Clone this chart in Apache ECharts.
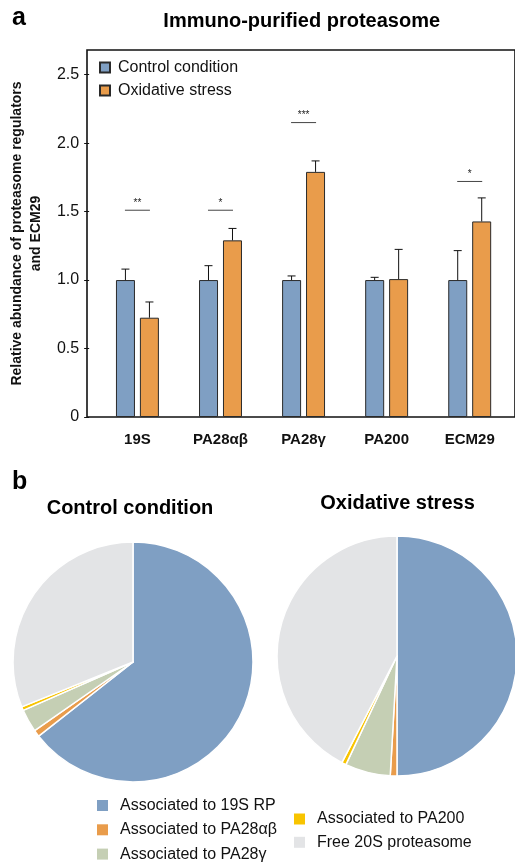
<!DOCTYPE html>
<html>
<head>
<meta charset="utf-8">
<script src="https://cdn.jsdelivr.net/npm/echarts@6/dist/echarts.min.js"></script>
<style>
html,body{margin:0;padding:0;background:#fff;}
#c{width:515px;height:862px;}
</style>
</head>
<body>
<div id="c"></div>
<script>
// ---- data ----
var categories = ['19S', 'PA28\u03b1\u03b2', 'PA28\u03b3', 'PA200', 'ECM29'];
var controlValues = [1.0, 1.0, 1.0, 1.0, 1.0];
var controlErrors = [0.08, 0.105, 0.03, 0.02, 0.215];
var stressValues = [0.725, 1.29, 1.79, 1.007, 1.428];
var stressErrors = [0.115, 0.087, 0.08, 0.217, 0.172];
var sigCategories = [0, 1, 2, 4];
var sigLevels = [1.51, 1.51, 2.15, 1.72];
var sigLabels = ['**', '*', '***', '*'];
var yTicks = [0, 0.5, 1.0, 1.5, 2.0, 2.5];
var yMax = 2.68;

var pieNames = ['Associated to 19S RP', 'Associated to PA28\u03b1\u03b2', 'Associated to PA28\u03b3', 'Associated to PA200', 'Free 20S proteasome'];
var controlPie = [64.4, 0.9, 3.1, 0.5, 31.1];
var stressPie = [50.0, 0.9, 6.1, 0.6, 42.4];

// ---- styles ----
var BLUE = '#7f9fc3', ORANGE = '#e99c4b';
var pieColors = ['#7f9fc3', '#e99c4b', '#c5cfb4', '#f8c400', '#e3e4e6'];
var FONT = 'Liberation Sans, Arial, Helvetica, sans-serif';
var HALF = 12; // half of (bar width + gap)

var chart = echarts.init(document.getElementById('c'), null, {renderer: 'canvas'});

function errItem(offset) {
  return function (params, api) {
    var c = api.value(0), v = api.value(1), e = api.value(2);
    var b = api.coord([c, v]);
    var t = api.coord([c, v + e]);
    var x = b[0] + offset;
    return {
      type: 'group',
      children: [
        {type: 'line', shape: {x1: x, y1: b[1], x2: x, y2: t[1]}, style: {stroke: '#111', lineWidth: 1}},
        {type: 'line', shape: {x1: x - 4, y1: t[1], x2: x + 4, y2: t[1]}, style: {stroke: '#111', lineWidth: 1}}
      ]
    };
  };
}

var option = {
  backgroundColor: '#fff',
  animation: false,
  textStyle: {fontFamily: FONT},
  grid: [
    {left: 93.75, right: 3.75, top: 50, bottom: 862 - 417, containLabel: false},
    {left: 87, right: -3, top: 50, bottom: 862 - 417, show: true, borderColor: '#111', borderWidth: 1.6, backgroundColor: 'transparent'}
  ],
  xAxis: [
    {
      type: 'category', gridIndex: 0, data: categories,
      axisLine: {show: false}, axisTick: {show: false},
      axisLabel: {color: '#111', fontFamily: FONT, fontWeight: 'bold', fontSize: 15, margin: 15}
    },
    {type: 'value', gridIndex: 1, show: false}
  ],
  yAxis: [
    {
      type: 'value', gridIndex: 0, min: 0, max: yMax, interval: 0.5, offset: 6.75,
      splitLine: {show: false},
      axisLine: {show: false},
      axisTick: {show: true, length: 5, lineStyle: {color: '#111', width: 1}, customValues: yTicks},
      axisLabel: {
        color: '#111', fontFamily: FONT, fontSize: 16, margin: 10, customValues: yTicks,
        formatter: function (v) { return v === 0 ? '0' : v.toFixed(1); }
      },
      name: 'Relative abundance of proteasome regulators\nand ECM29',
      nameLocation: 'middle', nameRotate: 90, nameGap: 40,
      nameTextStyle: {fontFamily: FONT, fontWeight: 'bold', fontSize: 14, lineHeight: 19, color: '#111'}
    },
    {type: 'value', gridIndex: 1, show: false}
  ],
  legend: [
    {
      data: ['Control condition', 'Oxidative stress'],
      orient: 'vertical', left: 94, top: 54.5, itemGap: 7, height: 100,
      icon: 'rect', itemWidth: 10, itemHeight: 10, selectedMode: false,
      textStyle: {fontFamily: FONT, fontSize: 16, color: '#111', padding: [0, 0, 0, 3]}
    },
    {
      data: pieNames.slice(0, 3),
      orient: 'vertical', left: 92, top: 792.5, itemGap: 8.3, height: 120,
      icon: 'rect', itemWidth: 11, itemHeight: 11, selectedMode: false,
      itemStyle: {borderWidth: 0},
      textStyle: {fontFamily: FONT, fontSize: 16, color: '#111', padding: [0, 0, 0, 7]}
    },
    {
      data: pieNames.slice(3),
      orient: 'vertical', left: 289, top: 806, itemGap: 7.3, height: 120,
      icon: 'rect', itemWidth: 11, itemHeight: 11, selectedMode: false,
      itemStyle: {borderWidth: 0},
      textStyle: {fontFamily: FONT, fontSize: 16, color: '#111', padding: [0, 0, 0, 7]}
    }
  ],
  graphic: [
    {type: 'text', x: 12, y: 18.5, style: {text: 'a', font: 'bold 25px ' + FONT, fill: '#000', align: 'left', verticalAlign: 'middle'}},
    {type: 'text', x: 301.7, y: 21, style: {text: 'Immuno-purified proteasome', font: 'bold 20px ' + FONT, fill: '#000', align: 'center', verticalAlign: 'middle'}},
    {type: 'text', x: 12, y: 482, style: {text: 'b', font: 'bold 25px ' + FONT, fill: '#000', align: 'left', verticalAlign: 'middle'}},
    {type: 'text', x: 130, y: 508, style: {text: 'Control condition', font: 'bold 20px ' + FONT, fill: '#000', align: 'center', verticalAlign: 'middle'}},
    {type: 'text', x: 397.5, y: 503, style: {text: 'Oxidative stress', font: 'bold 20px ' + FONT, fill: '#000', align: 'center', verticalAlign: 'middle'}}
  ],
  series: [
    {
      name: 'Control condition', type: 'bar', xAxisIndex: 0, yAxisIndex: 0,
      data: controlValues, barWidth: 19, barGap: '26%',
      itemStyle: {color: BLUE, borderColor: '#2a2a2a', borderWidth: 1},
      emphasis: {disabled: true}, z: 2
    },
    {
      name: 'Oxidative stress', type: 'bar', xAxisIndex: 0, yAxisIndex: 0,
      data: stressValues, barWidth: 19, barGap: '26%',
      itemStyle: {color: ORANGE, borderColor: '#2a2a2a', borderWidth: 1},
      emphasis: {disabled: true}, z: 2
    },
    {
      name: 'controlErr', type: 'custom', xAxisIndex: 0, yAxisIndex: 0, silent: true, clip: false, z: 3,
      data: controlValues.map(function (v, i) { return [i, v, controlErrors[i]]; }),
      renderItem: errItem(-HALF)
    },
    {
      name: 'stressErr', type: 'custom', xAxisIndex: 0, yAxisIndex: 0, silent: true, clip: false, z: 3,
      data: stressValues.map(function (v, i) { return [i, v, stressErrors[i]]; }),
      renderItem: errItem(HALF)
    },
    {
      name: 'sig', type: 'custom', xAxisIndex: 0, yAxisIndex: 0, silent: true, clip: false, z: 3,
      data: sigCategories.map(function (c, i) { return [c, sigLevels[i]]; }),
      renderItem: function (params, api) {
        var p = api.coord([api.value(0), api.value(1)]);
        return {
          type: 'group',
          children: [
            {type: 'line', shape: {x1: p[0] - HALF - 0.5, y1: p[1], x2: p[0] + HALF + 0.5, y2: p[1]}, style: {stroke: '#444', lineWidth: 1}},
            {type: 'text', x: p[0], y: p[1] - 2, style: {text: sigLabels[params.dataIndex], font: '10px ' + FONT, fill: '#222', align: 'center', verticalAlign: 'bottom'}}
          ]
        };
      }
    },
    {
      name: 'Control pie', type: 'pie', center: [133, 662], radius: 120,
      startAngle: 90, clockwise: true, silent: true,
      label: {show: false}, labelLine: {show: false},
      itemStyle: {borderColor: '#fff', borderWidth: 1.5},
      emphasis: {disabled: true},
      data: pieNames.map(function (n, i) { return {name: n, value: controlPie[i], itemStyle: {color: pieColors[i]}}; })
    },
    {
      name: 'Stress pie', type: 'pie', center: [397, 656], radius: 120,
      startAngle: 90, clockwise: true, silent: true,
      label: {show: false}, labelLine: {show: false},
      itemStyle: {borderColor: '#fff', borderWidth: 1.5},
      emphasis: {disabled: true},
      data: pieNames.map(function (n, i) { return {name: n, value: stressPie[i], itemStyle: {color: pieColors[i]}}; })
    }
  ]
};
chart.setOption(option);
</script>
</body>
</html>
